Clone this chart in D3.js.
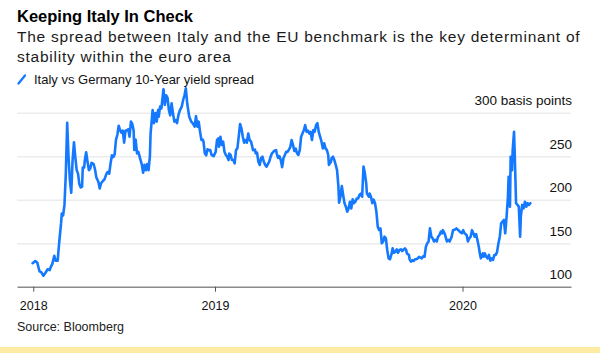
<!DOCTYPE html>
<html><head><meta charset="utf-8">
<script src="https://cdn.jsdelivr.net/npm/d3@7"></script>
<style>
html,body{margin:0;padding:0;background:#fff;}
svg{display:block;font-family:"Liberation Sans",Arial,Helvetica,sans-serif;}
</style></head><body>
<svg id="chart" width="600" height="353"></svg>
<script>
const title = "Keeping Italy In Check";
const subtitleLines = ["The spread between Italy and the EU benchmark is the key determinant of", "stability within the euro area"];
const seriesName = "Italy vs Germany 10-Year yield spread";
const sourceText = "Source: Bloomberg";
const yTicks = [100, 150, 200, 250, 300];
const yTickLabels = ["100", "150", "200", "250", "300 basis points"];
const xTickDates = ["2018-04-08", "2019-01-01", "2020-01-01"];
const xTickLabels = ["2018", "2019", "2020"];
const xDomain = ["2018-03-15", "2020-06-09"];
const yDomain = [100, 300];

const dates = [
"2018-04-07","2018-04-11","2018-04-14","2018-04-17","2018-04-20","2018-04-23","2018-04-26","2018-04-29","2018-05-02","2018-05-04",
"2018-05-06","2018-05-09","2018-05-11","2018-05-14","2018-05-16","2018-05-19","2018-05-20","2018-05-22","2018-05-24","2018-05-26",
"2018-05-28","2018-05-30","2018-06-01","2018-06-03","2018-06-05","2018-06-07","2018-06-09","2018-06-11","2018-06-13","2018-06-15",
"2018-06-17","2018-06-19","2018-06-20","2018-06-22","2018-06-23","2018-06-25","2018-06-27","2018-06-29","2018-07-01","2018-07-03",
"2018-07-06","2018-07-08","2018-07-10","2018-07-13","2018-07-15","2018-07-17","2018-07-20","2018-07-22","2018-07-25","2018-07-27",
"2018-07-29","2018-07-31","2018-08-02","2018-08-04","2018-08-06","2018-08-08","2018-08-10","2018-08-12","2018-08-14","2018-08-16",
"2018-08-18","2018-08-20","2018-08-22","2018-08-24","2018-08-26","2018-08-28","2018-08-30","2018-09-01","2018-09-03","2018-09-04",
"2018-09-06","2018-09-08","2018-09-10","2018-09-12","2018-09-15","2018-09-17","2018-09-19","2018-09-21","2018-09-23","2018-09-25",
"2018-09-27","2018-09-28","2018-10-01","2018-10-03","2018-10-05","2018-10-07","2018-10-09","2018-10-10","2018-10-12","2018-10-14",
"2018-10-17","2018-10-19","2018-10-21","2018-10-23","2018-10-25","2018-10-27","2018-10-29","2018-10-31","2018-11-02","2018-11-04",
"2018-11-06","2018-11-08","2018-11-10","2018-11-13","2018-11-15","2018-11-17","2018-11-19","2018-11-21","2018-11-24","2018-11-27",
"2018-11-29","2018-12-02","2018-12-04","2018-12-06","2018-12-08","2018-12-10","2018-12-12","2018-12-14","2018-12-15","2018-12-17",
"2018-12-19","2018-12-21","2018-12-23","2018-12-25","2018-12-27","2018-12-29","2018-12-30",
"2019-01-02","2019-01-04","2019-01-06","2019-01-07","2019-01-09","2019-01-11","2019-01-13","2019-01-15","2019-01-17","2019-01-19",
"2019-01-21","2019-01-22","2019-01-24","2019-01-26","2019-01-28","2019-01-30","2019-02-01","2019-02-03","2019-02-05","2019-02-07",
"2019-02-09","2019-02-11","2019-02-13","2019-02-15","2019-02-17","2019-02-19","2019-02-21","2019-02-23","2019-02-25","2019-02-26",
"2019-03-01","2019-03-02","2019-03-04","2019-03-06","2019-03-08","2019-03-10","2019-03-12","2019-03-14","2019-03-16","2019-03-18",
"2019-03-20","2019-03-22","2019-03-24","2019-03-26","2019-03-28","2019-03-29","2019-04-01","2019-04-02","2019-04-04","2019-04-06",
"2019-04-08","2019-04-10","2019-04-12","2019-04-14","2019-04-16","2019-04-18","2019-04-20","2019-04-22","2019-04-24","2019-04-26",
"2019-04-28","2019-04-30","2019-05-02","2019-05-04","2019-05-06","2019-05-08","2019-05-10","2019-05-12","2019-05-14","2019-05-16",
"2019-05-18","2019-05-20","2019-05-22","2019-05-24","2019-05-26","2019-05-28","2019-05-30","2019-06-01","2019-06-03","2019-06-05",
"2019-06-07","2019-06-09","2019-06-11","2019-06-13","2019-06-15","2019-06-17","2019-06-18","2019-06-21","2019-06-22","2019-06-24",
"2019-06-26","2019-06-28","2019-06-30","2019-07-02","2019-07-03","2019-07-05","2019-07-07","2019-07-09","2019-07-11","2019-07-13",
"2019-07-15","2019-07-17","2019-07-19","2019-07-21","2019-07-23","2019-07-25","2019-07-27","2019-07-29","2019-07-31","2019-08-02",
"2019-08-04","2019-08-06","2019-08-08","2019-08-10","2019-08-12","2019-08-13","2019-08-16","2019-08-17","2019-08-19","2019-08-21",
"2019-08-23","2019-08-25","2019-08-27","2019-08-29","2019-08-31","2019-09-02","2019-09-04","2019-09-06","2019-09-08","2019-09-10",
"2019-09-12","2019-09-14","2019-09-16","2019-09-18","2019-09-20","2019-09-22","2019-09-24","2019-09-26","2019-09-28","2019-09-30",
"2019-10-02","2019-10-04","2019-10-06","2019-10-08","2019-10-10","2019-10-11","2019-10-14","2019-10-15","2019-10-17","2019-10-19",
"2019-10-21","2019-10-23","2019-10-25","2019-10-27","2019-10-29","2019-10-31","2019-11-02","2019-11-04","2019-11-06","2019-11-08",
"2019-11-10","2019-11-12","2019-11-14","2019-11-16","2019-11-18","2019-11-20","2019-11-22","2019-11-24","2019-11-26","2019-11-28",
"2019-11-30","2019-12-02","2019-12-03","2019-12-06","2019-12-07","2019-12-09","2019-12-11","2019-12-13","2019-12-16","2019-12-18",
"2019-12-21","2019-12-23","2019-12-26","2019-12-28","2019-12-31",
"2020-01-02","2020-01-04","2020-01-07","2020-01-09","2020-01-11","2020-01-13","2020-01-15","2020-01-17","2020-01-19","2020-01-21",
"2020-01-23","2020-01-25","2020-01-27","2020-01-28","2020-01-31","2020-02-01","2020-02-03","2020-02-05","2020-02-07","2020-02-09",
"2020-02-11","2020-02-13","2020-02-15","2020-02-17","2020-02-19","2020-02-21","2020-02-23","2020-02-25","2020-02-27","2020-02-29",
"2020-03-02","2020-03-04","2020-03-06","2020-03-08","2020-03-09","2020-03-11","2020-03-12","2020-03-14","2020-03-15","2020-03-17",
"2020-03-18","2020-03-20","2020-03-22","2020-03-24","2020-03-26","2020-03-27","2020-03-29","2020-03-31","2020-04-02","2020-04-04",
"2020-04-06","2020-04-08","2020-04-10"
];
const spread = [
127,129.5,127.6,118,116.5,112.6,116,120,119,123,
126,135.6,130,130,149,173,184,182,194,230,
288.5,249,222.6,208,245.6,266,249,234,230,217.7,
214,215,237,237,245,254.5,243.7,234,236,242.5,
241,235,225.7,220.7,213,218.9,221.8,223.4,230,232,
230,241.8,251,249,252,269,274.6,285,280,277,
279.5,265.5,279.5,279.5,281,272.4,289.7,287,279.5,257.1,
269,253.3,255,249,240.6,231,240,234,241,234,
250,276,303,288,299.5,289.7,303,295.4,307,305,
327,309,320,317,303,297,310.8,299.5,289.7,291.5,
288,297,302.3,307,314.6,320,328,310.8,295.4,289.7,
288,284,296,284,289.7,278,268.6,269,267,253.3,
251,257.9,257,257,251.4,250.6,250,
255,268.6,270.5,261,272.4,263,266.7,255,251.4,249.4,
245.6,253,251.4,245.6,245.6,241.8,257.1,259,272.4,287,
282,272.4,265.5,268.6,265.5,276,268.6,267,261,257,
257.5,253.3,254,243.7,240,248,249.4,243.7,240,238,
241,243.7,249.4,253.3,255,256,257,253.3,248,250,
245.6,237.4,248,251.4,255,255,257.6,260.5,268.6,263,
256,258.7,253.3,251.4,257,272.4,276,280,285.7,278,
279.5,276,278,268.6,280,278,285.7,288,278,272.4,
267,259,264.8,259,257,251.4,240,243.7,248,249.4,
245.6,240,234,215,196.5,203.4,215.7,205.4,195.9,192,
186.2,190,197.7,190,200.5,196,197.7,201.4,201.4,205.4,
207,203.4,238,230.6,218.8,207,203.4,207,203.4,196,
200,196,186.2,169,165.2,167,149.9,152,157.5,155.5,
142.2,132.6,131.5,136.5,144.1,139,140,142.8,139,142.2,
143,141,142.8,144,142,138.3,136.5,131.5,128.7,130.5,
129.6,131.5,131.5,132.6,134.4,133.5,132.6,135,134.4,146,
150,152,167,157.5,155.6,152,153.7,152,157.5,159.5,
163.2,161.4,165,160.5,157.5,152,153.7,152,157.5,165,
165.8,167,165,163.2,161.4,
165,161.4,159.5,152,155.6,157.5,165,161.4,157.5,160.5,
153.7,146,136.5,132.6,138.3,134.4,138.3,134.4,132.6,136.5,
130,132.6,130.8,136.5,136.5,140,149.9,157.5,172.9,174.8,
176.7,161.4,180.5,203.4,226.4,192,249.4,234,257,278,
253,195.9,194,192,157.5,180.5,194,190,197.7,192,
196,194,196
];

const parse = d3.timeParse("%Y-%m-%d");
const data = dates.map((d, i) => ({date: parse(d), value: spread[i]}));

const svg = d3.select("#chart");
const W = 600, H = 353;
const plotLeft = 17, plotRight = 571, plotTop = 112.7, plotBottom = 286.7;
const blue = "#1479ff";

svg.append("rect").attr("width", W).attr("height", H).attr("fill", "#fff");

const x = d3.scaleTime().domain(xDomain.map(parse)).range([plotLeft, plotRight]);
const y = d3.scaleLinear().domain(yDomain).range([plotBottom, plotTop]);

// Titles
svg.append("text").attr("x", 17).attr("y", 22).attr("font-size", 16.5).attr("font-weight", "bold")
  .attr("fill", "#000").text(title);
svg.selectAll("text.sub").data(subtitleLines).enter().append("text").attr("class", "sub")
  .attr("x", 17).attr("y", (d, i) => 41.5 + i * 20).attr("font-size", 15.5).attr("letter-spacing", 0.75)
  .attr("fill", "#1a1a1a").text(d => d);

// Legend
svg.append("line").attr("x1", 18.5).attr("y1", 83.5).attr("x2", 25).attr("y2", 75.5)
  .attr("stroke", blue).attr("stroke-width", 2.3).attr("stroke-linecap", "round");
svg.append("text").attr("x", 34).attr("y", 84).attr("font-size", 13).attr("fill", "#111").text(seriesName);

// Y gridlines + labels
const yAxis = d3.axisLeft(y).tickValues(yTicks).tickSize(plotRight - plotLeft)
  .tickFormat((d, i) => yTickLabels[i]);
const gy = svg.append("g").attr("transform", `translate(${plotRight},0)`).call(yAxis);
gy.select(".domain").remove();
gy.selectAll(".tick line").attr("stroke", "#ececec").attr("stroke-width", 1.5)
  .filter(d => d === yDomain[0]).remove();
gy.selectAll(".tick text").attr("x", 1).attr("dy", -8).attr("text-anchor", "end")
  .attr("font-size", 13.5).attr("font-family", "Liberation Sans, Arial, sans-serif").attr("fill", "#111");

// X axis
const xAxis = d3.axisBottom(x).tickValues(xTickDates.map(parse)).tickSize(5).tickSizeOuter(0)
  .tickFormat((d, i) => xTickLabels[i]);
const gx = svg.append("g").attr("transform", `translate(0,${plotBottom})`).call(xAxis);
gx.select(".domain").attr("stroke", "#8a8a8a").attr("stroke-width", 1.6);
gx.selectAll(".tick line").attr("stroke", "#555").attr("stroke-width", 1);
gx.selectAll(".tick text").attr("y", 23.3).attr("dy", 0).attr("font-size", 12.5)
  .attr("font-family", "Liberation Sans, Arial, sans-serif").attr("fill", "#111");

// Line
const line = d3.line().x(d => x(d.date)).y(d => y(d.value));
svg.append("path").datum(data).attr("d", line).attr("fill", "none").attr("stroke", blue)
  .attr("stroke-width", 2.6).attr("stroke-linejoin", "round").attr("stroke-linecap", "round");

// Source
svg.append("text").attr("x", 17).attr("y", 331).attr("font-size", 12.5).attr("fill", "#222").text(sourceText);

// Bottom band
svg.append("rect").attr("x", 0).attr("y", 347).attr("width", W).attr("height", H - 347).attr("fill", "#fdeaa3");
</script>
</body></html>
